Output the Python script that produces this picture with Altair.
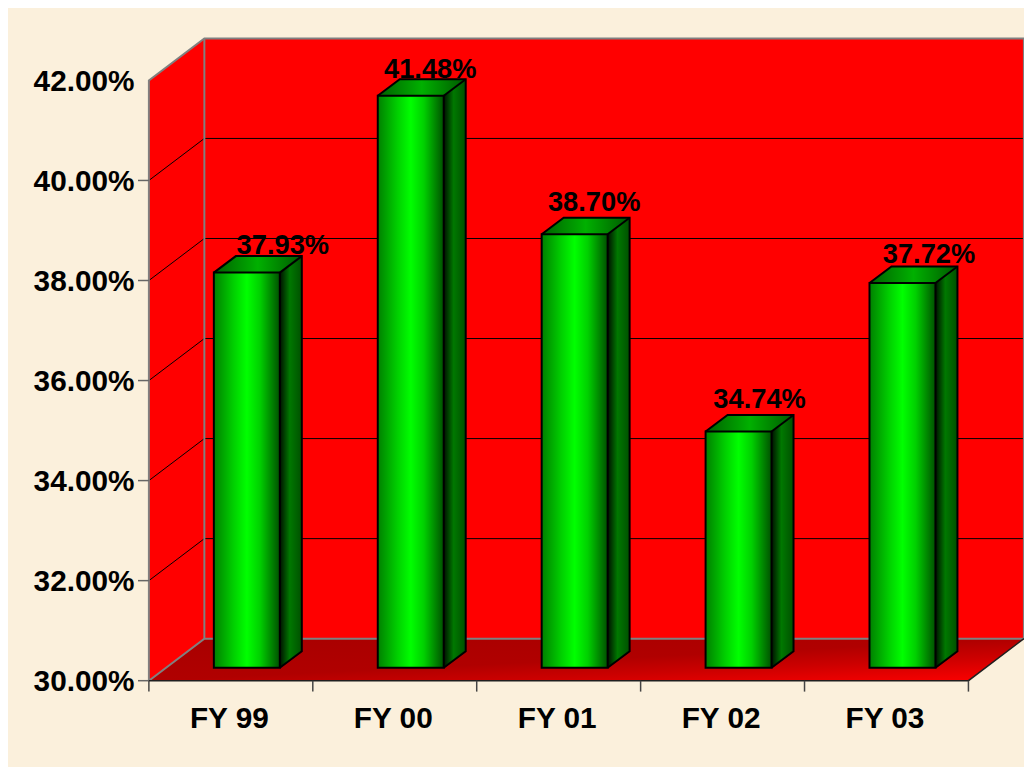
import altair as alt
import pandas as pd

categories = ["FY 99", "FY 00", "FY 01", "FY 02", "FY 03"]
values = [37.93, 41.48, 38.70, 34.74, 37.72]
y_ticks = [30, 32, 34, 36, 38, 40, 42]
y_min, y_max = 30, 42
n = len(categories)

# Pseudo-3D geometry, in data units (one category = 1 on x, 1% = 1 on y)
WALL_DX, WALL_DY = 55.5 / 164, 42 / 50
BAR_L, BAR_R = 65 / 164, 131 / 164
BAR_DX, BAR_DY = 22 / 164, 16.5 / 50
BAR_BASE, BAR_SCALE = 30.26, 0.996
# Hand placement of the data labels relative to each bar's top centre (pixels)
LABEL_DX = [36, 19.5, 19.5, 21, 26.5]
LABEL_DY = [19, 18, 23, 24, 20.5]

FONT = "Liberation Sans"
GREY = "#808080"

xs = alt.Scale(domain=[0, n], nice=False, zero=False)
ys = alt.Scale(domain=[y_min, y_max], nice=False, zero=False)


def X(f="x", **k):
    return alt.X(f"{f}:Q", scale=xs, axis=None, title=None, **k)


def Y(f="y", **k):
    return alt.Y(f"{f}:Q", scale=ys, axis=None, title=None, **k)


def H(stops, x1=0, y1=0, x2=1, y2=0):
    return alt.Gradient(
        gradient="linear", x1=x1, y1=y1, x2=x2, y2=y2,
        stops=[alt.GradientStop(offset=o, color=c) for o, c in stops],
    )


def outline(df, color, width):
    return alt.Chart(df).mark_line(color=color, strokeWidth=width, clip=False).encode(
        x=X(), y=Y(), detail="g:N", order=alt.Order("i:Q")
    )


# Walls and floor
left_wall = pd.DataFrame({"x": [0, WALL_DX], "y": [y_min, y_min + WALL_DY],
                          "y2": [y_max, y_max + WALL_DY]})
back_wall = pd.DataFrame({"x": [WALL_DX], "x2": [n + WALL_DX],
                          "y": [y_min + WALL_DY], "y2": [y_max + WALL_DY]})
floor = pd.DataFrame({"y": [y_min, y_min + WALL_DY], "x": [0, WALL_DX], "x2": [n, n + WALL_DX]})

# Axes live on this layer
axis_layer = alt.Chart(back_wall).mark_rect(color="#ff0000", clip=False).encode(
    x=alt.X("x:Q", scale=xs, title=None, axis=alt.Axis(
        values=[i + 0.5 for i in range(n)],
        labelExpr="['" + "','".join(categories) + "'][floor(datum.value)]",
        domain=False, ticks=False, grid=False, labelFont=FONT, labelFontWeight="bold",
        labelFontSize=30, labelColor="#000000", labelPadding=23, labelAngle=0,
        labelOffset=-2, labelFlush=False, labelOverlap=False)),
    x2="x2:Q",
    y=alt.Y("y:Q", scale=ys, title=None, axis=alt.Axis(
        values=y_ticks, labelExpr="format(datum.value,'.2f')+'%'",
        domain=False, ticks=False, grid=False, labelFont=FONT, labelFontWeight="bold",
        labelFontSize=30, labelColor="#000000", labelPadding=15,
        labelOffset=1, labelFlush=False, labelOverlap=False)),
    y2="y2:Q",
)

left_fill = alt.Chart(left_wall).mark_area(color="#ff0000", clip=False).encode(
    x=X(), y=Y(), y2="y2:Q")
floor_fill = alt.Chart(floor).mark_area(
    orient="horizontal", clip=False,
    color=H([(0, "#a80000"), (0.5, "#b00000"), (0.7, "#cc0000"), (1, "#ff0000")], 0, 0, 1, 1),
).encode(y=Y(), x=X(), x2="x2:Q")

# Gridlines across side and back wall
grid_rows = []
for t in y_ticks[1:-1]:
    grid_rows += [
        {"g": t, "i": 0, "x": 0, "y": t},
        {"g": t, "i": 1, "x": WALL_DX, "y": t + WALL_DY},
        {"g": t, "i": 2, "x": n + WALL_DX, "y": t + WALL_DY},
    ]
grid = outline(pd.DataFrame(grid_rows), "#000000", 1)

grey_edges = outline(pd.DataFrame([
    {"g": "a", "i": 0, "x": 0, "y": y_min},
    {"g": "a", "i": 1, "x": 0, "y": y_max},
    {"g": "a", "i": 2, "x": WALL_DX, "y": y_max + WALL_DY},
    {"g": "a", "i": 3, "x": n + WALL_DX, "y": y_max + WALL_DY},
    {"g": "a", "i": 4, "x": n + WALL_DX, "y": y_min + WALL_DY},
    {"g": "a", "i": 5, "x": WALL_DX, "y": y_min + WALL_DY},
    {"g": "a", "i": 6, "x": 0, "y": y_min},
    {"g": "b", "i": 0, "x": WALL_DX, "y": y_min + WALL_DY},
    {"g": "b", "i": 1, "x": WALL_DX, "y": y_max + WALL_DY},
]), GREY, 2)

dark_edges = outline(pd.DataFrame([
    {"g": "a", "i": 0, "x": 0, "y": y_min},
    {"g": "a", "i": 1, "x": n, "y": y_min},
    {"g": "a", "i": 2, "x": n + WALL_DX, "y": y_min + WALL_DY},
]), "#202020", 1.5)

# Tick marks
tick_y = alt.Chart(pd.DataFrame({"y": y_ticks[:-1]})).mark_rule(color="#666666", strokeWidth=1.5, clip=False).encode(
    x=alt.value(-11), x2=alt.value(0), y=Y())
tick_x = alt.Chart(pd.DataFrame({"x": list(range(n + 1))})).mark_rule(color="#444444", strokeWidth=1.5, clip=False).encode(
    x=X(), y=alt.value(605), y2=alt.value(616))

# Bars
front, side, top, labels, lines = [], [], [], [], []
for k, (c, v) in enumerate(zip(categories, values)):
    l, r = k + BAR_L, k + BAR_R
    t = BAR_BASE + (v - y_min) * BAR_SCALE
    b = BAR_BASE
    front.append({"c": c, "x": l, "x2": r, "y": b, "y2": t})
    side += [{"c": c, "x": r, "y": b, "y2": t},
             {"c": c, "x": r + BAR_DX, "y": b + BAR_DY, "y2": t + BAR_DY}]
    top += [{"c": c, "y": t, "x": l, "x2": r},
            {"c": c, "y": t + BAR_DY, "x": l + BAR_DX, "x2": r + BAR_DX}]
    labels.append({"x": (l + r) / 2 + LABEL_DX[k] / 164,
                   "y": t + LABEL_DY[k] / 50,
                   "label": f"{v:.2f}%"})
    g1, g2 = f"{c}-o", f"{c}-m"
    lines += [
        {"g": g1, "i": 0, "x": r, "y": b},
        {"g": g1, "i": 1, "x": r + BAR_DX, "y": b + BAR_DY},
        {"g": g1, "i": 2, "x": r + BAR_DX, "y": t + BAR_DY},
        {"g": g1, "i": 3, "x": l + BAR_DX, "y": t + BAR_DY},
        {"g": g1, "i": 4, "x": l, "y": t},
        {"g": g2, "i": 0, "x": r, "y": t},
        {"g": g2, "i": 1, "x": r + BAR_DX, "y": t + BAR_DY},
    ]

front_face = alt.Chart(pd.DataFrame(front)).mark_rect(
    stroke="#000000", strokeWidth=2, clip=False,
    color=H([(0, "#008000"), (0.3, "#00d000"), (0.5, "#00ff00"), (0.7, "#00d000"),
             (0.85, "#009000"), (1, "#005000")]),
).encode(x=X(), x2="x2:Q", y=Y(), y2="y2:Q", detail="c:N")
side_face = alt.Chart(pd.DataFrame(side)).mark_area(
    clip=False, color=H([(0, "#001000"), (0.45, "#007800"), (1, "#005000")]),
).encode(x=X(), y=Y(), y2="y2:Q", detail="c:N")
top_face = alt.Chart(pd.DataFrame(top)).mark_area(
    orient="horizontal", clip=False,
    color=H([(0, "#006000"), (0.5, "#00b000"), (1, "#005800")]),
).encode(y=Y(), x=X(), x2="x2:Q", detail="c:N")
bar_lines = outline(pd.DataFrame(lines), "#000000", 2)

label_text = alt.Chart(pd.DataFrame(labels)).mark_text(
    font=FONT, fontWeight="bold", fontSize=27.5, color="#000000",
    align="center", baseline="alphabetic", clip=False,
).encode(x=X(), y=Y(), text="label:N")

chart = alt.layer(
    axis_layer, left_fill, floor_fill, grid, grey_edges, dark_edges, tick_y, tick_x,
    side_face, top_face, front_face, bar_lines, label_text,
).resolve_axis(x="independent", y="independent").properties(
    width=826, height=605,
    background="#fbf0dc",
    padding={"left": 142, "top": 70, "right": 56, "bottom": 84},
    autosize=alt.AutoSizeParams(type="none"),
).configure_view(stroke=None)

chart.save("out.html", embed_options={"renderer": "svg", "actions": False})
